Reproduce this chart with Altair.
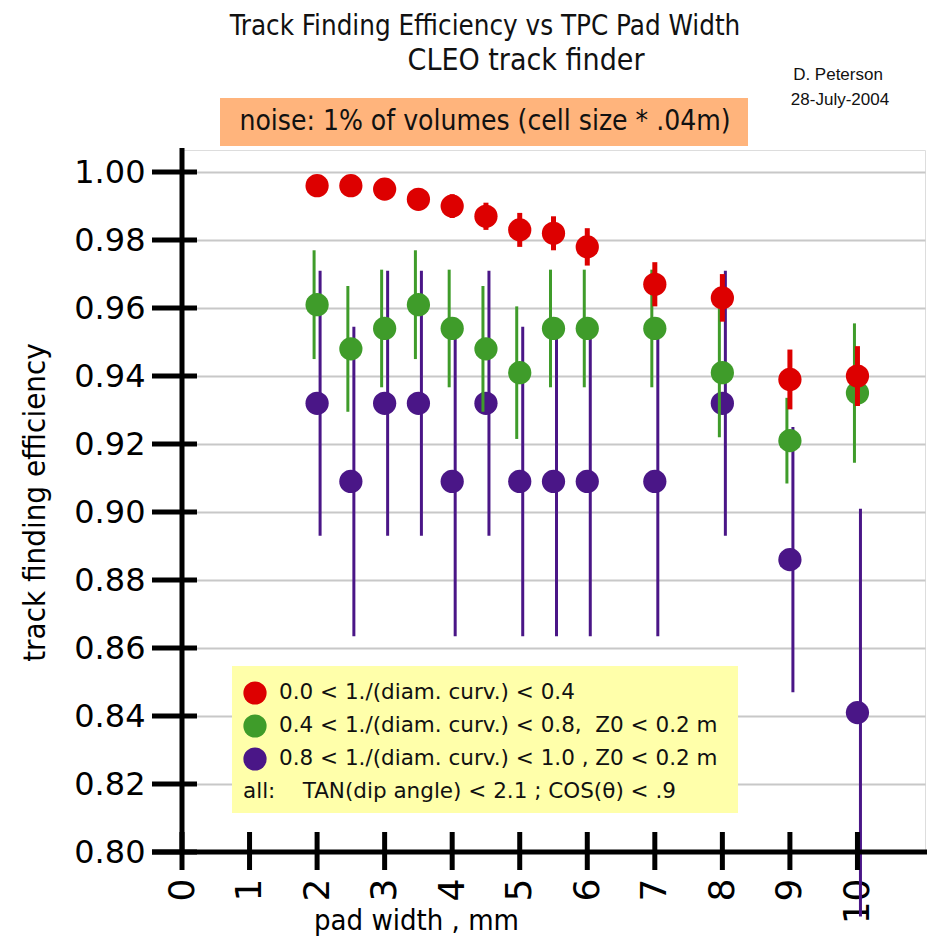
import altair as alt
import pandas as pd

# ---- data ----
pad_width = [2, 2.5, 3, 3.5, 4, 4.5, 5, 5.5, 6, 7, 8, 9, 10]
red_eff = [0.996, 0.996, 0.995, 0.992, 0.990, 0.987, 0.983, 0.982, 0.978, 0.967, 0.963, 0.939, 0.940]
red_err = [0.002, 0.002, 0.0025, 0.003, 0.0035, 0.004, 0.005, 0.005, 0.0055, 0.0065, 0.007, 0.0088, 0.0088]
green_eff = [0.961, 0.948, 0.954, 0.961, 0.954, 0.948, 0.941, 0.954, 0.954, 0.954, 0.941, 0.921, 0.935]
green_err = [0.016, 0.0185, 0.0173, 0.016, 0.0173, 0.0185, 0.0195, 0.0173, 0.0173, 0.0173, 0.019, 0.0126, 0.0205]
purple_eff = [0.932, 0.909, 0.932, 0.932, 0.909, 0.932, 0.909, 0.909, 0.909, 0.909, 0.932, 0.886, 0.841]
purple_err = [0.039, 0.0455, 0.039, 0.039, 0.0455, 0.039, 0.0455, 0.0455, 0.0455, 0.0455, 0.039, 0.039, 0.06]

x_ticks = [0, 1, 2, 3, 4, 5, 6, 7, 8, 9, 10]
y_ticks = [0.80, 0.82, 0.84, 0.86, 0.88, 0.90, 0.92, 0.94, 0.96, 0.98, 1.00]

legend_labels = [
    "0.0 < 1./(diam. curv.) < 0.4",
    "0.4 < 1./(diam. curv.) < 0.8,\u00a0\u00a0Z0 < 0.2 m",
    "0.8 < 1./(diam. curv.) < 1.0 , Z0 < 0.2 m",
]
legend_note = "all:\u00a0\u00a0\u00a0\u00a0TAN(dip angle) < 2.1 ; COS(\u03b8) < .9"
colors = ["#dd0000", "#3f9c2a", "#4a1687"]

title_line1 = "Track Finding Efficiency vs TPC Pad Width"
title_line2 = "CLEO track finder"
author = "D. Peterson"
date = "28-July-2004"
noise_note = "noise: 1% of volumes (cell size * .04m)"

# ---- layout ----
W, H = 743, 702
NARROW = "Liberation Sans Narrow, DejaVu Sans Condensed, Open Sans"
VERD = "DejaVu Sans"

xscale = alt.Scale(domain=[0, 11], nice=False, zero=False)
yscale = alt.Scale(domain=[0.80, 1.0065], nice=False, zero=False)

xaxis = alt.Axis(values=x_ticks, labelAngle=270, labelFont=VERD, labelFontSize=36,
                 labelColor="black", labelPadding=26, ticks=False, tickSize=0,
                 domain=False, grid=False, title="pad width , mm", titleFont=NARROW,
                 titleFontSize=29, titleFontWeight="normal", titleColor="black",
                 titleX=234, titleY=68, titleBaseline="middle", titleAlign="center",
                 labelOverlap=False)
yaxis = alt.Axis(values=y_ticks, format=".2f", labelFont=VERD, labelFontSize=32,
                 labelColor="black", labelPadding=37, ticks=False, tickSize=0,
                 domain=False, grid=True, gridColor="#c8c8c8", gridWidth=2,
                 title="track finding efficiency", titleFont=NARROW, titleFontSize=31,
                 titleFontWeight="normal", titleColor="black", titleAngle=270,
                 titleX=-147, titleY=352, titleBaseline="middle", titleAlign="center",
                 labelOverlap=False)

X = lambda f: alt.X(f, type="quantitative", scale=xscale, axis=xaxis)
Y = lambda f: alt.Y(f, type="quantitative", scale=yscale, axis=yaxis)

one = pd.DataFrame({"a": [0]})

def series_layers(eff, err, color, bar_w, xoff):
    df = pd.DataFrame({"x": pad_width, "y": eff,
                       "lo": [e - d for e, d in zip(eff, err)],
                       "hi": [e + d for e, d in zip(eff, err)]})
    bars = alt.Chart(df).mark_rule(color=color, strokeWidth=bar_w, xOffset=xoff).encode(
        x=X("x"), y=Y("lo"), y2="hi")
    dots = alt.Chart(df).mark_circle(color=color, size=540, opacity=1).encode(
        x=X("x"), y=Y("y"))
    return [bars, dots]

# boxes
orange_box = alt.Chart(one).mark_rect(color="#ffb47c").encode(
    x=alt.value(38), x2=alt.value(566), y=alt.value(-52), y2=alt.value(-4))
yellow_box = alt.Chart(one).mark_rect(color="#ffffaa").encode(
    x=alt.value(50), x2=alt.value(556), y=alt.value(516), y2=alt.value(663))

# hand-drawn axes (thick black with crossing ticks)
y_line = alt.Chart(one).mark_rule(color="black", strokeWidth=5).encode(
    x=alt.value(0), y=alt.value(-2), y2=alt.value(H))
x_line = alt.Chart(one).mark_rule(color="black", strokeWidth=5).encode(
    x=alt.value(-30), x2=alt.value(W + 12), y=alt.value(H))
y_tick_marks = alt.Chart(pd.DataFrame({"y": y_ticks})).mark_rule(color="black", strokeWidth=5).encode(
    y=Y("y"), x=alt.value(-30), x2=alt.value(15))
x_tick_marks = alt.Chart(pd.DataFrame({"x": x_ticks})).mark_rule(color="black", strokeWidth=5).encode(
    x=X("x"), y=alt.value(H - 20), y2=alt.value(H + 18))

texts = [
    alt.Chart(one).mark_text(text=title_line1, font=NARROW, fontSize=27.5, color="#111",
                             align="center", baseline="middle").encode(
        x=alt.value(303), y=alt.value(-123)),
    alt.Chart(one).mark_text(text=title_line2, font=NARROW, fontSize=30, color="#111",
                             align="center", baseline="middle").encode(
        x=alt.value(344), y=alt.value(-89)),
    alt.Chart(one).mark_text(text=author, font="Liberation Sans", fontSize=17, color="#111",
                             align="center", baseline="middle").encode(
        x=alt.value(656), y=alt.value(-75)),
    alt.Chart(one).mark_text(text=date, font="Liberation Sans", fontSize=17, color="#111",
                             align="center", baseline="middle").encode(
        x=alt.value(658), y=alt.value(-50)),
    alt.Chart(one).mark_text(text=noise_note, font=NARROW, fontSize=28, color="#111",
                             align="center", baseline="middle").encode(
        x=alt.value(303), y=alt.value(-28)),
]

legend_layers = []
rows = [543, 576, 609]
for lab, col, ry in zip(legend_labels, colors, rows):
    legend_layers.append(alt.Chart(one).mark_circle(color=col, size=540, opacity=1).encode(
        x=alt.value(73), y=alt.value(ry)))
    legend_layers.append(alt.Chart(one).mark_text(text=lab, font=VERD, fontSize=21.5, color="#111",
                                                  align="left", baseline="middle").encode(
        x=alt.value(97), y=alt.value(ry)))
legend_layers.append(alt.Chart(one).mark_text(text=legend_note, font=VERD, fontSize=21.5, color="#111",
                                              align="left", baseline="middle").encode(
    x=alt.value(61), y=alt.value(642)))

data_layers = (series_layers(purple_eff, purple_err, colors[2], 3, 3)
               + series_layers(green_eff, green_err, colors[1], 3, -3)
               + series_layers(red_eff, red_err, colors[0], 5, 0))

chart = alt.layer(
    *data_layers[:1],
    orange_box, yellow_box,
    *texts,
    y_line, x_line, y_tick_marks, x_tick_marks,
    *legend_layers,
    *data_layers[1:],
).properties(
    width=W, height=H,
    autosize=alt.AutoSizeParams(type="none"),
    padding={"left": 174, "top": 142, "right": 2, "bottom": 84},
).configure_view(stroke=None).configure(background="white")

chart.save("out.html", embed_options={"renderer": "svg", "actions": False})
